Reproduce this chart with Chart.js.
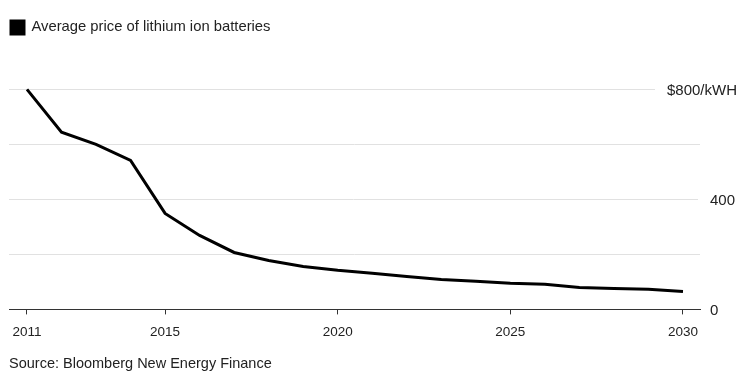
<!DOCTYPE html>
<html>
<head>
<meta charset="utf-8">
<script src="https://cdn.jsdelivr.net/npm/chart.js@4.4.1/dist/chart.umd.min.js"></script>
<style>
  html, body { margin: 0; padding: 0; background: #fff; }
  #wrap { width: 753px; height: 376px; }
</style>
</head>
<body>
<div id="wrap"><canvas id="grafico"></canvas></div>
<script>
// Dados
const anos = [2011, 2012, 2013, 2014, 2015, 2016, 2017, 2018, 2019, 2020,
  2021, 2022, 2023, 2024, 2025, 2026, 2027, 2028, 2029, 2030];
const precos = [800, 644, 600, 542, 349, 269, 207, 178, 156, 142,
  131, 120, 109, 102, 95, 91, 80, 76, 73, 65];
const anosMarcados = [2011, 2015, 2020, 2025, 2030];
const valoresY = [0, 200, 400, 600, 800];
const rotulosY = ['0', '', '400', '', '$800/kWH'];

const fonte = '"Liberation Sans", Arial, sans-serif';

// Linhas de grade e rótulos do eixo Y (à direita, com linhas encurtadas)
const eixoDireito = {
  id: 'eixoDireito',
  beforeDatasetsDraw(chart) {
    const { ctx, chartArea } = chart;
    const y = chart.scales.y;
    ctx.save();
    ctx.font = '15px ' + fonte;
    ctx.textBaseline = 'middle';
    ctx.fillStyle = '#222';
    valoresY.forEach((v, i) => {
      const py = Math.round(y.getPixelForValue(v)) + 0.5;
      const texto = rotulosY[i];
      let xTexto = chartArea.right + 10;
      const largura = texto ? ctx.measureText(texto).width : 0;
      if (xTexto + largura > chart.width - 16) xTexto = chart.width - 16 - largura;
      const fim = texto ? xTexto - 12 : chartArea.right;
      if (v !== 0) {
        ctx.strokeStyle = '#e1e1e1';
        ctx.lineWidth = 1;
        ctx.beginPath();
        ctx.moveTo(chartArea.left, py);
        ctx.lineTo(Math.min(fim, chartArea.right), py);
        ctx.stroke();
      }
      if (texto) {
        ctx.textAlign = 'left';
        ctx.fillText(texto, xTexto, py + 1);
      }
    });
    ctx.restore();
  }
};

const ctx = document.getElementById('grafico').getContext('2d');
new Chart(ctx, {
  type: 'line',
  data: {
    datasets: [{
      label: 'Average price of lithium ion batteries',
      data: anos.map((a, i) => ({ x: a, y: precos[i] })),
      borderColor: '#000',
      backgroundColor: '#000',
      borderWidth: 3,
      pointRadius: 0,
      tension: 0
    }]
  },
  options: {
    responsive: true,
    maintainAspectRatio: false,
    animation: false,
    layout: { padding: { left: 9, right: 53, top: 18, bottom: 0 } },
    plugins: {
      legend: {
        position: 'top',
        align: 'start',
        labels: {
          boxWidth: 13,
          boxHeight: 13,
          padding: 2,
          color: '#222',
          font: { family: fonte, size: 14.8 }
        }
      },
      title: {
        display: true,
        position: 'bottom',
        align: 'start',
        text: 'Source: Bloomberg New Energy Finance',
        color: '#222',
        font: { family: fonte, size: 14.5, weight: 'normal' },
        padding: { top: 5, bottom: 3 }
      },
      tooltip: { enabled: false }
    },
    scales: {
      x: {
        type: 'linear',
        min: 2010.479,
        max: 2030.493,
        afterBuildTicks: (scale) => {
          scale.ticks = anosMarcados.map(v => ({ value: v }));
        },
        grid: {
          display: true,
          drawOnChartArea: false,
          drawTicks: true,
          tickLength: 5,
          color: '#333'
        },
        border: { display: true, color: '#333', width: 1 },
        ticks: {
          autoSkip: false,
          maxRotation: 0,
          padding: 10,
          color: '#222',
          font: { family: fonte, size: 13.5 },
          callback: (v) => String(v)
        }
      },
      y: {
        display: false,
        min: 0,
        max: 962
      }
    }
  },
  plugins: [eixoDireito]
});
</script>
</body>
</html>
